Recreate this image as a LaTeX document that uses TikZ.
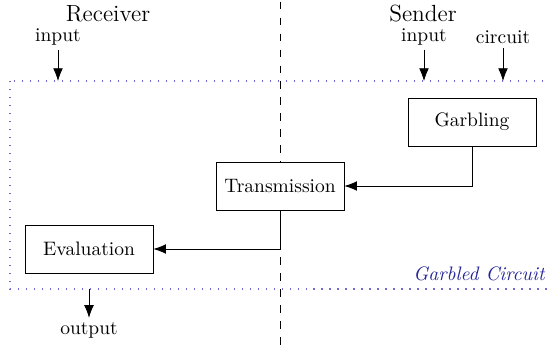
\documentclass[tikz,border=0pt]{standalone}
\usetikzlibrary{arrows.meta}
\definecolor{gcblue}{rgb}{0.15,0.15,0.6}
\definecolor{gcdots}{rgb}{0.45,0.42,0.8}
\begin{document}
\begin{tikzpicture}[
    x=0.513pt, y=-0.513pt,
    box_style/.style={draw, fill=white, minimum width=65.6pt, minimum height=24.6pt},
    label_style/.style={inner sep=2pt},
    party_style/.style={font=\large},
    arrow_style/.style={-{Latex[length=6.5pt, width=5pt]}},
    party_split/.style={dash pattern=on 4pt off 4.2pt, dash phase=-0.8pt},
    gc_dotted/.style={gcdots, line width=0.7pt, dash pattern=on 0.7pt off 3.4pt} % sparse dots
]
    \useasboundingbox (0,0) rectangle (549,347);

    % --- Separation between the parties ---
    \coordinate (Top) at (280,0);
    \coordinate (Bottom) at (280,347);
    \draw[party_split] (Top) -- (Bottom);

    % --- Garbled circuit area ---
    \coordinate (GC_NW) at (10,81);
    \coordinate (GC_SE) at (560,289);
    \draw[gc_dotted] (GC_NW) rectangle (GC_SE);
    \node[gcblue, font=\itshape, inner sep=0pt, anchor=base east] (gc_label) at (545,280) {Garbled Circuit};

    % --- Parties ---
    \node[party_style] (receiver) at (108,14) {Receiver};
    \node[party_style] (sender) at (423,14) {Sender};

    % --- Steps ---
    \node[box_style] (garbling) at (472,122) {Garbling};
    \node[box_style] (transmission) at (280,186) {Transmission};
    \node[box_style] (evaluation) at (89,249) {Evaluation};

    % --- Inputs and output ---
    \node[label_style] (input_r) at (58,37) {input};
    \node[label_style] (input_s) at (424,37) {input};
    \node[label_style] (circuit_s) at (503,37) {circuit};
    \node[label_style] (output_r) at (89,330) {output};

    \coordinate (in_r) at (58,81);
    \coordinate (in_s) at (424,81);
    \coordinate (circ_s) at (503,81);
    \coordinate (out_r) at (89,289);

    \draw[arrow_style] (input_r) -- (in_r);
    \draw[arrow_style] (input_s) -- (in_s);
    \draw[arrow_style] (circuit_s) -- (circ_s);
    \draw[arrow_style] (out_r) -- (output_r);

    % --- Flow between the steps ---
    \draw[arrow_style] (garbling.south) |- (transmission.east);
    \draw[arrow_style] (transmission.south) |- (evaluation.east);

\end{tikzpicture}
\end{document}
